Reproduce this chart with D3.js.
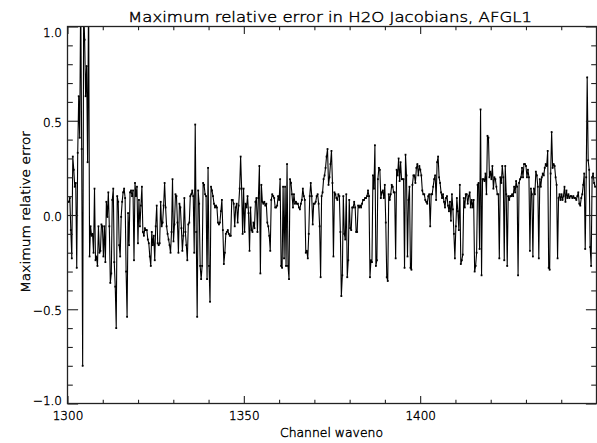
<!DOCTYPE html>
<html><head><meta charset="utf-8">
<script src="https://cdn.jsdelivr.net/npm/d3@7"></script>
<style>
html,body{margin:0;padding:0;background:#fff;}
svg{display:block;}
text{font-family:"DejaVu Sans","Liberation Sans",sans-serif;font-weight:200;fill:#000;stroke:#000;stroke-width:0.4px;}
</style></head>
<body><svg id="c" width="597" height="443"></svg>
<script>
// ---- data ----
const titleText = "Maximum relative error in H2O Jacobians, AFGL1";
const xLabel = "Channel waveno";
const yLabel = "Maximum relative error";
const xMajorTicks = [1300, 1350, 1400, 1450];
const xLabelTicks = [1300, 1350, 1400];
const yMajorTicks = [-1.0, -0.5, 0.0, 0.5, 1.0];
const wavenoFirst = 1300.1, wavenoLast = 1449.6;

const errA = [0.07,0.07,0.09,-0.08,-0.23,0.31,0.24,0.15,0.17,-0.28,0.33,0.63,0.41,1.18,0.35,-0.80,1.1,0.93,0.63,0.79,0.28,1.2,-0.22,-0.06,-0.11,-0.10,-0.20,0.14,-0.24,-0.22,-0.27,-0.06,-0.20,-0.19,-0.05,-0.06,-0.22,-0.06,-0.25,0.07,-0.01,0.12,-0.06,-0.36,-0.31,0.08,0.14,-0.25,-0.38,-0.60,0.10,0.07,-0.16,-0.22,-0.01,0.07,0.12,0.14,0.09,-0.30,-0.54,0.01,-0.16,0.12,0.13,0.10,0.13,-0.24,0.17,0.10,0.15,-0.15,0.08,-0.06,0.05,0.15,-0.09,-0.11,-0.07,-0.08,-0.08,-0.13,-0.15,-0.22,-0.27,-0.09,-0.16,-0.11,-0.24,-0.06,0.05,-0.15,-0.16,-0.15,0.07,-0.06,-0.04,0.05,0.17,0.04,-0.06,-0.10,-0.13,-0.16,-0.20,-0.09];
const errB = [0.19,-0.14,-0.05,0.11,0.10,-0.04,-0.20,0.06,0.04,-0.07,-0.19,-0.11,0.09,-0.09,-0.16,-0.24,-0.05,-0.04,0.10,0.11,0.13,0.10,-0.20,0.48,-0.09,-0.54,0.13,0.06,-0.27,-0.34,-0.27,0.17,0.16,0.11,0.10,-0.34,0.25,-0.27,-0.46,0.15,0.13,0.10,0.06,0.04,0.05,0.04,-0.04,-0.05,-0.04,0.02,0.08,-0.08,-0.26,-0.20,-0.10,-0.09,-0.08,-0.10,-0.11,-0.11,0.08,0.08,0.06,-0.06,0.04,0.06,-0.04,0.05,0.14,0.31,0.14,-0.10,0.14,-0.09,0.06,0.04,0.10,0.01,-0.19,0.04,-0.08,-0.09,-0.04,-0.07,0.07,0.09,-0.09,0.09,0.26,-0.31,0.16,0.07,0.06,0.07,0.05,0.06,-0.04,-0.06,-0.11,-0.19,0.08,0.11,0.10,0.09,0.04,0.04];
const errC = [0.05,0.10,0.08,0.19,-0.27,-0.28,0.15,-0.23,0.15,-0.27,0.27,-0.27,-0.34,0.19,0.17,0.11,0.04,0.11,0.06,0.07,0.06,0.06,0.04,0.03,0.06,0.08,0.14,0.10,0.08,-0.20,-0.19,-0.23,-0.10,0.10,0.17,0.10,-0.05,0.06,0.06,0.07,0.10,0.11,0.06,-0.06,-0.33,0.10,0.12,0.19,0.21,0.25,0.31,0.35,0.16,0.20,0.27,0.34,0.17,-0.22,0.12,0.11,0.09,0.08,0.11,0.10,-0.09,-0.43,-0.32,0.10,-0.10,-0.13,0.11,-0.33,-0.24,0.08,-0.07,-0.08,0.04,0.04,0.07,0.04,-0.09,-0.09,0.05,0.04,0.05,0.04,0.06,0.08,0.08,0.09,0.09,0.10,0.13,0.10,-0.33,-0.24,-0.25,0.21,0.14,0.37,-0.27,-0.24,0.19,0.25,0.24,0.09,0.12,0.13];
const errD = [0.09,0.16,-0.04,-0.33,-0.35,0.11,0.08,0.11,0.16,0.15,0.12,0.12,-0.23,0.24,0.21,0.30,0.18,0.28,0.19,0.19,0.19,-0.28,0.32,0.21,-0.22,0.08,0.15,-0.28,-0.29,0.16,0.21,0.21,0.17,0.25,0.27,0.21,0.26,0.24,0.21,0.13,0.11,0.11,0.08,0.07,0.06,0.10,0.11,-0.06,0.11,0.11,0.15,0.19,0.21,0.08,0.28,0.31,0.20,0.17,0.12,0.09,0.11,0.07,0.04,0.09,0.10,0.05,0.02,0.07,-0.03,0.11,0.03,-0.10,-0.23,-0.06,0.09,0.02,-0.08,0.16,-0.26,-0.24,-0.21,0.09,0.04,0.11,0.11,0.06,0.10,0.12,0.04,0.08,0.04,0.08,-0.30,-0.27,-0.20,0.16,0.17,-0.18,0.56,-0.32,0.19,0.19,0.18,0.22,0.11,0.42,0.41];
const errE = [0.20,0.23,0.19,0.26,0.14,0.20,0.19,0.15,0.11,0.11,-0.23,0.20,0.17,0.26,0.20,-0.24,0.26,0.11,-0.27,0.10,0.08,0.10,0.10,0.11,0.10,0.15,0.12,0.18,0.15,-0.32,0.17,0.19,0.20,0.25,0.20,0.27,0.27,0.26,0.20,0.24,0.20,-0.19,0.14,0.11,-0.22,0.14,0.11,0.23,0.21,0.15,-0.23,0.19,0.15,0.20,0.22,0.21,0.25,0.27,0.26,0.34,-0.28,-0.29,0.22,0.44,0.25,0.27,0.26,0.20,0.16,-0.23,0.09,0.11,0.08,0.11,0.08,0.10,0.15,0.07,0.13,0.09,0.11,0.09,0.10,0.10,0.09,0.10,0.09,0.09,0.08,0.10,0.12,0.06,0.05,0.09,0.11,0.16,0.22,-0.18,0.20,0.73,0.29,0.24,-0.17,-0.27,0.20,0.22,0.17,0.15];

// ---- assemble ----
const err = errA.concat(errB, errC, errD, errE);
const n = err.length;
const chanStep = (wavenoLast - wavenoFirst) / (n - 1);
const points = err.map((v, i) => ({w: wavenoFirst + i * chanStep, v: v}));

const L = 67.5, R = 596.5, T = 26.5, B = 403.5;
const x = d3.scaleLinear().domain([1300, 1450]).range([L, R]);
const y = d3.scaleLinear().domain([-1, 1]).range([B, T]);

const svg = d3.select("#c");
svg.append("rect").attr("width", 597).attr("height", 443).attr("fill", "#fff");

svg.append("defs").append("clipPath").attr("id", "clip")
  .append("rect").attr("x", L).attr("y", T).attr("width", R - L).attr("height", B - T);

// data
const g = svg.append("g").attr("clip-path", "url(#clip)");
const line = d3.line().x(d => x(d.w)).y(d => y(d.v));
g.append("path").datum(points).attr("d", line)
  .attr("fill", "none").attr("stroke", "#000").attr("stroke-width", 1.1)
  .attr("stroke-linejoin", "round");
g.selectAll("rect.pt").data(points).enter().append("rect").attr("class", "pt")
  .attr("x", d => x(d.w) - 0.9).attr("y", d => y(d.v) - 0.9)
  .attr("width", 1.8).attr("height", 1.8).attr("fill", "#000");

// axes
const axisColor = "#222";
const xMinor = d3.range(1300, 1451, 10).filter(v => !xMajorTicks.includes(v));
const yMinor = d3.range(-10, 11, 1).map(v => v / 10).filter(v => !yMajorTicks.some(m => Math.abs(m - v) < 1e-9));

function styleAxis(sel) {
  sel.select(".domain").remove();
  sel.selectAll(".tick line").attr("stroke", axisColor).attr("stroke-width", 1.1);
  sel.selectAll("text").attr("font-size", 12).attr("font-family", "'DejaVu Sans', sans-serif")
    .attr("font-weight", 200).attr("fill", "#000").attr("stroke", "#000").attr("stroke-width", 0.4);
}

// bottom
svg.append("g").attr("transform", `translate(0,${B})`)
  .call(d3.axisBottom(x).tickValues(xMajorTicks).tickSize(-7.5).tickFormat(d => xLabelTicks.includes(d) ? d3.format("d")(d) : ""))
  .call(styleAxis)
  .call(s => s.selectAll("text").attr("y", 0).attr("dy", "16.5"));
svg.append("g").attr("transform", `translate(0,${B})`)
  .call(d3.axisBottom(x).tickValues(xMinor).tickSize(-3.75).tickFormat(""))
  .call(styleAxis);
// top
svg.append("g").attr("transform", `translate(0,${T})`)
  .call(d3.axisTop(x).tickValues(xMajorTicks).tickSize(-7.5).tickFormat(""))
  .call(styleAxis);
svg.append("g").attr("transform", `translate(0,${T})`)
  .call(d3.axisTop(x).tickValues(xMinor).tickSize(-3.75).tickFormat(""))
  .call(styleAxis);
// left
const yfmt = d3.format(".1f");
svg.append("g").attr("transform", `translate(${L},0)`)
  .call(d3.axisLeft(y).tickValues(yMajorTicks).tickSize(-10.6).tickPadding(5.5).tickFormat(yfmt))
  .call(styleAxis)
  .call(s => s.selectAll("text").attr("dy", d => d === 1 ? "9.8" : (d === -1 ? "1.3" : "5.6")));
svg.append("g").attr("transform", `translate(${L},0)`)
  .call(d3.axisLeft(y).tickValues(yMinor).tickSize(-5.3).tickFormat(""))
  .call(styleAxis);
// right
svg.append("g").attr("transform", `translate(${R},0)`)
  .call(d3.axisRight(y).tickValues(yMajorTicks).tickSize(-10.6).tickFormat(""))
  .call(styleAxis);
svg.append("g").attr("transform", `translate(${R},0)`)
  .call(d3.axisRight(y).tickValues(yMinor).tickSize(-5.3).tickFormat(""))
  .call(styleAxis);

// box
svg.append("rect").attr("x", L).attr("y", T).attr("width", R - L).attr("height", B - T)
  .attr("fill", "none").attr("stroke", axisColor).attr("stroke-width", 1.3);

// titles
svg.append("text").attr("x", 330).attr("y", 22).attr("text-anchor", "middle")
  .attr("font-size", 14).attr("textLength", 404).attr("lengthAdjust", "spacingAndGlyphs")
  .text(titleText);
svg.append("text").attr("x", 331.5).attr("y", 437).attr("text-anchor", "middle")
  .attr("font-size", 12).attr("textLength", 103).attr("lengthAdjust", "spacingAndGlyphs")
  .text(xLabel);
svg.append("text").attr("transform", "translate(29.5,212) rotate(-90)").attr("text-anchor", "middle")
  .attr("font-size", 12).attr("textLength", 162).attr("lengthAdjust", "spacingAndGlyphs")
  .text(yLabel);
</script></body></html>
